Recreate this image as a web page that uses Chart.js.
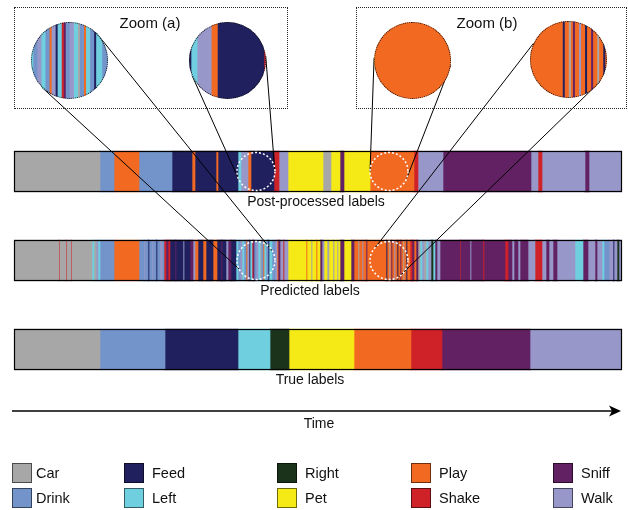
<!DOCTYPE html>
<html>
<head>
<meta charset="utf-8">
<script src="https://cdn.jsdelivr.net/npm/chart.js@4.4.1/dist/chart.umd.min.js"></script>
<style>
  html, body { margin: 0; padding: 0; background: #fff; }
  body { width: 628px; height: 510px; position: relative; overflow: hidden;
         font-family: "Liberation Sans", Arial, sans-serif; color: #111; }
  #main { position: absolute; left: 0; top: 0; }
  .zoom-box { position: absolute; border: 1px dotted #222; box-sizing: border-box; }
  .zoom-title { position: absolute; font-size: 15px; transform: translate(-50%, -50%); white-space: nowrap; }
  .lens { position: absolute; width: 77px; height: 77px; border-radius: 50%; overflow: hidden; }
  .lens canvas { display: block; }
  .ring { position: absolute; width: 77px; height: 77px; border-radius: 50%;
          border: 1px dotted #111; box-sizing: border-box; }
  #legend { position: absolute; left: 12px; top: 463px; display: grid; grid-auto-flow: column;
            grid-template-rows: 20px 20px; row-gap: 5px;
            grid-template-columns: 112px 153px 134px 142px 70px; font-size: 14.5px; }
  .item { display: flex; align-items: center; }
  .sw { width: 20px; height: 20px; box-sizing: border-box; border: 1px solid rgba(0,0,0,.55); margin-right: 8px; }
  .item:nth-child(-n+2) .sw { margin-right: 4px; }
</style>
</head>
<body>
<canvas id="main" width="628" height="510"></canvas>
<div class="zoom-box" style="left:14px;top:7px;width:274px;height:102px"></div>
<div class="zoom-box" style="left:356px;top:7px;width:271px;height:102px"></div>
<div class="zoom-title" style="left:150px;top:22px">Zoom (a)</div>
<div class="zoom-title" style="left:487px;top:22px">Zoom (b)</div>
<div id="lenses"></div>
<div id="legend"></div>
<script>
// activity classes and their colours
const classes = ['Car', 'Drink', 'Feed', 'Left', 'Right', 'Pet', 'Play', 'Shake', 'Sniff', 'Walk'];
const classColors = ['#a7a7a7', '#7294cb', '#21205f', '#70cfdf', '#1b331b', '#f5ea15', '#f26922', '#ce2128', '#622163', '#9797c9'];
const rowNames = ['Post-processed labels', 'Predicted labels', 'True labels'];
const timeMax = 608;

// segments: [class, end time]; each one starts where the previous ended
const trueSegments = [
    ['Car', 86], ['Drink', 151], ['Feed', 224], ['Left', 256], ['Right', 275],
    ['Pet', 340], ['Play', 397], ['Shake', 428], ['Sniff', 516], ['Walk', 608]
];

const postSegments = [
    ['Car', 86], ['Drink', 100], ['Play', 125], ['Drink', 158], ['Feed', 178], ['Play', 181],
    ['Feed', 202], ['Play', 204], ['Feed', 224], ['Left', 227], ['Walk', 234], ['Play', 237],
    ['Feed', 260], ['Shake', 265], ['Walk', 274], ['Pet', 309], ['Car', 317], ['Pet', 326],
    ['Sniff', 330], ['Pet', 356], ['Play', 400], ['Shake', 404], ['Walk', 429], ['Sniff', 517],
    ['Walk', 524], ['Shake', 528], ['Walk', 571], ['Sniff', 575], ['Walk', 608]
];

const predictedSegments = [
    ['Car', 45], ['Shake', 45.5], ['Car', 52], ['Shake', 52.5], ['Car', 57], ['Shake', 57.5], ['Car', 78],
    ['Left', 80], ['Car', 82], ['Walk', 84], ['Left', 86], ['Drink', 100], ['Play', 125],
    ['Drink', 130], ['Walk', 131], ['Drink', 134], ['Feed', 135], ['Drink', 138], ['Walk', 139],
    ['Drink', 142], ['Feed', 143], ['Drink', 146], ['Walk', 148], ['Drink', 150], ['Shake', 152],
    ['Sniff', 154], ['Shake', 156], ['Feed', 161], ['Sniff', 162], ['Feed', 169], ['Walk', 170],
    ['Feed', 176], ['Sniff', 179], ['Walk', 181], ['Play', 184], ['Feed', 189], ['Play', 192],
    ['Feed', 199], ['Play', 203], ['Feed', 207], ['Sniff', 208], ['Feed', 212], ['Walk', 214],
    ['Sniff', 217], ['Feed', 222], ['Left', 224], ['Drink', 226], ['Walk', 228], ['Left', 230],
    ['Drink', 232], ['Play', 233], ['Walk', 235], ['Feed', 236], ['Left', 238], ['Shake', 239],
    ['Sniff', 240], ['Drink', 242], ['Walk', 244], ['Left', 246], ['Car', 247], ['Drink', 249],
    ['Play', 250], ['Left', 252], ['Drink', 254], ['Feed', 255], ['Left', 258], ['Drink', 261],
    ['Walk', 263], ['Play', 264], ['Sniff', 266], ['Walk', 269], ['Shake', 270], ['Walk', 274],
    ['Pet', 292], ['Play', 293], ['Pet', 297], ['Car', 298], ['Pet', 302], ['Play', 303],
    ['Pet', 306], ['Sniff', 308], ['Walk', 310], ['Pet', 313], ['Car', 315], ['Pet', 319],
    ['Walk', 320], ['Pet', 323], ['Car', 324], ['Pet', 326], ['Sniff', 330], ['Pet', 337],
    ['Sniff', 340], ['Play', 344], ['Car', 345], ['Play', 348], ['Walk', 349], ['Play', 352],
    ['Sniff', 353], ['Play', 372], ['Feed', 373], ['Play', 375], ['Car', 376], ['Play', 377],
    ['Sniff', 378], ['Play', 380], ['Walk', 381], ['Play', 383], ['Feed', 384], ['Play', 386],
    ['Sniff', 387], ['Play', 389], ['Car', 390], ['Play', 392], ['Feed', 393], ['Play', 396],
    ['Shake', 398], ['Sniff', 400], ['Play', 402], ['Sniff', 404], ['Car', 406], ['Left', 408],
    ['Walk', 410], ['Car', 412], ['Left', 414], ['Walk', 417], ['Right', 419], ['Left', 421],
    ['Sniff', 423], ['Walk', 426], ['Sniff', 446], ['Shake', 446.5], ['Sniff', 456], ['Walk', 457],
    ['Sniff', 469], ['Shake', 470], ['Sniff', 491], ['Shake', 494], ['Sniff', 498], ['Walk', 500],
    ['Sniff', 504], ['Walk', 506], ['Sniff', 514], ['Walk', 521], ['Shake', 528], ['Walk', 532],
    ['Sniff', 535], ['Walk', 539], ['Sniff', 543], ['Walk', 561], ['Left', 569], ['Sniff', 574],
    ['Walk', 581], ['Sniff', 583], ['Walk', 588], ['Left', 590], ['Drink', 595], ['Walk', 599],
    ['Feed', 600], ['Walk', 603], ['Right', 605], ['Walk', 608]
];

const rowSegments = [postSegments, predictedSegments, trueSegments];

// zoom lenses: row shown, centre time, half width (time), lens centre on page, link angles [lens, spot]
const zooms = [
    { row: 1, centre: 242, half: 19, lens: [69, 60], links: [[-45, -27], [135, 154]] },
    { row: 0, centre: 242, half: 19, lens: [227.5, 60.5], links: [[157, 158], [-7, 3]] },
    { row: 0, centre: 375, half: 19, lens: [412.5, 60.5], links: [[184, 180], [7, 21]] },
    { row: 1, centre: 375, half: 19, lens: [568.5, 59.5], links: [[-155, -135], [35.5, 57]] }
];
const lensR = 38.5;

function colorOf(cls) {
    return classColors[classes.indexOf(cls)];
}

function buildDatasets(rows, thickness) {
    const sets = [];
    rows.forEach((rowIndex, slot) => {
        let start = 0;
        rowSegments[rowIndex].forEach(([cls, end]) => {
            const data = rows.map((_, i) => i === slot ? [start, end] : null);
            const ds = {
                label: cls,
                data: data,
                backgroundColor: colorOf(cls),
                borderWidth: 0,
                grouped: false,
                barPercentage: 1,
                categoryPercentage: 1
            };
            if (thickness) ds.barThickness = thickness;
            sets.push(ds);
            start = end;
        });
    });
    return sets;
}

const rad = d => d * Math.PI / 180;

// outlines, captions, zoom spots, links and time arrow
const overlay = {
    id: 'overlay',
    afterDatasetsDraw(chart) {
        const { ctx, scales: { x, y } } = chart;
        ctx.save();
        rowNames.forEach((name, i) => {
            const cy = y.getPixelForValue(i);
            const top = cy - 20.5, bottom = cy + 20.5;
            ctx.strokeStyle = '#000';
            ctx.lineWidth = 1.2;
            ctx.strokeRect(x.left + 0.5, top + 0.5, x.width - 1, bottom - top - 1);
            ctx.fillStyle = '#111';
            ctx.font = '14px "Liberation Sans", Arial, sans-serif';
            ctx.textAlign = 'center';
            ctx.textBaseline = 'middle';
            ctx.fillText(name, i === 0 ? 316 : 310, bottom + 10);
        });

        zooms.forEach(z => {
            const cx = x.getPixelForValue(z.centre);
            const cy = y.getPixelForValue(z.row);
            const r = x.getPixelForValue(z.centre + z.half) - cx;
            ctx.setLineDash([]);
            ctx.strokeStyle = '#000';
            ctx.lineWidth = 1;
            z.links.forEach(([a, b]) => {
                ctx.beginPath();
                ctx.moveTo(z.lens[0] + lensR * Math.cos(rad(a)), z.lens[1] + lensR * Math.sin(rad(a)));
                ctx.lineTo(cx + r * Math.cos(rad(b)), cy + r * Math.sin(rad(b)));
                ctx.stroke();
            });
            ctx.strokeStyle = '#fff';
            ctx.lineWidth = 1.5;
            ctx.setLineDash([2, 2]);
            ctx.beginPath();
            ctx.arc(cx, cy, r, 0, Math.PI * 2);
            ctx.stroke();
        });

        // time arrow
        ctx.setLineDash([]);
        const ay = 411;
        ctx.strokeStyle = '#000';
        ctx.fillStyle = '#000';
        ctx.lineWidth = 1.5;
        ctx.beginPath();
        ctx.moveTo(x.left - 2, ay);
        ctx.lineTo(x.right - 8, ay);
        ctx.stroke();
        ctx.beginPath();
        ctx.moveTo(x.right - 1, ay);
        ctx.lineTo(x.right - 13, ay - 5.5);
        ctx.lineTo(x.right - 10, ay);
        ctx.lineTo(x.right - 13, ay + 5.5);
        ctx.closePath();
        ctx.fill();
        ctx.fillStyle = '#111';
        ctx.font = '14px "Liberation Sans", Arial, sans-serif';
        ctx.textAlign = 'center';
        ctx.textBaseline = 'middle';
        ctx.fillText('Time', 319, 424);
        ctx.restore();
    }
};

new Chart(document.getElementById('main'), {
    type: 'bar',
    data: { labels: rowNames, datasets: buildDatasets([0, 1, 2], 41) },
    options: {
        indexAxis: 'y',
        responsive: false,
        animation: false,
        devicePixelRatio: 1,
        events: [],
        layout: { padding: { left: 14, right: 6, top: 127, bottom: 116 } },
        plugins: { legend: { display: false }, tooltip: { enabled: false } },
        scales: {
            x: { type: 'linear', min: 0, max: timeMax, display: false },
            y: { type: 'category', display: false, offset: true }
        }
    },
    plugins: [overlay]
});

// lens charts: the same rows, seen through a narrow time window
const lensHolder = document.getElementById('lenses');
zooms.forEach(z => {
    const div = document.createElement('div');
    div.className = 'lens';
    div.style.left = (z.lens[0] - lensR) + 'px';
    div.style.top = (z.lens[1] - lensR) + 'px';
    const cv = document.createElement('canvas');
    cv.width = 77;
    cv.height = 77;
    div.appendChild(cv);
    lensHolder.appendChild(div);
    const ring = document.createElement('div');
    ring.className = 'ring';
    ring.style.left = div.style.left;
    ring.style.top = div.style.top;
    lensHolder.appendChild(ring);

    new Chart(cv, {
        type: 'bar',
        data: { labels: [rowNames[z.row]], datasets: buildDatasets([z.row]) },
        options: {
            indexAxis: 'y',
            responsive: false,
            animation: false,
            devicePixelRatio: 1,
            events: [],
            layout: { padding: 0 },
            plugins: { legend: { display: false }, tooltip: { enabled: false } },
            scales: {
                x: { type: 'linear', min: z.centre - z.half, max: z.centre + z.half, display: false },
                y: { type: 'category', display: false, offset: true }
            }
        }
    });
});

// legend, two rows, filled column by column
const legend = document.getElementById('legend');
classes.forEach((cls, i) => {
    const item = document.createElement('div');
    item.className = 'item';
    const sw = document.createElement('span');
    sw.className = 'sw';
    sw.style.background = classColors[i];
    item.appendChild(sw);
    item.appendChild(document.createTextNode(cls));
    legend.appendChild(item);
});
</script>
</body>
</html>
